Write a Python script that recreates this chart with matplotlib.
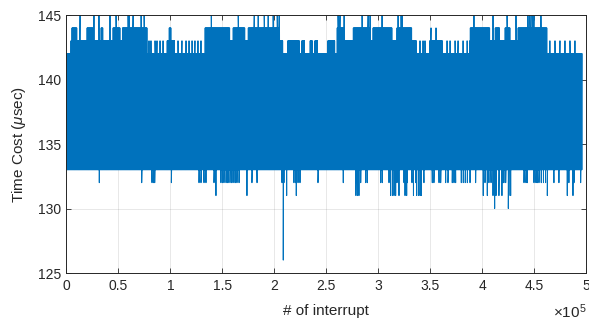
#!/usr/bin/env python
import matplotlib
matplotlib.use('Agg')
import matplotlib.pyplot as plt
import numpy as np

plt.rcParams['font.family'] = ['Liberation Sans', 'DejaVu Sans']
plt.rcParams['mathtext.fontset'] = 'custom'
plt.rcParams['mathtext.rm'] = 'Liberation Sans'
plt.rcParams['mathtext.it'] = 'Liberation Sans:italic'

# values (x in thousands of interrupts, y in usec)
n_interrupts = 496000
step = 250

# typical upper edge of the band, piecewise
top_bounds = [0, 4.5, 77.5, 97, 104.5, 133.5, 208.5, 213, 224.5, 226.5, 229.5,
              234.5, 237, 239, 242, 251.5, 258.5, 260.5, 337, 349.5, 362, 388,
              462, 496]
top_levels = [142, 143, 142, 143, 142, 143, 142, 143, 142, 143, 142, 143,
              142, 143, 142, 143, 142, 143, 142, 143, 142, 143, 142]
bottom_level = 133

# stretches where the upper edge reaches 144
seg144_start = [5.5, 19.9, 33.4, 44.9, 53.6, 98.7, 133.4, 160.3, 174.7, 260.3,
                275.7, 294.9, 318.0, 388.2, 412.1, 421.8, 434.3]
seg144_end = [10.3, 25.7, 35.3, 51.6, 77.6, 100.7, 157.4, 171.8, 205.5, 268.0,
              292.1, 313.2, 332.4, 407.4, 416.9, 426.6, 462.2]

# single spikes
spk145 = [13.2, 26.6, 31.4, 42.0, 47.8, 59.4, 60.4, 64.2, 71.9, 74.8, 139.4,
          165.3, 180.7, 184.5, 190.3, 194.1, 198.9, 202.8, 204.7, 261.3, 263.2,
          267.1, 284.4, 290.2, 292.1, 303.6, 319.0, 321.9, 322.9, 392.0, 410.3,
          423.8, 432.4, 443.9, 445.8, 447.8, 449.7, 456.4]
spk144 = [350.7, 355.5]
spk143 = [79.5, 81.4, 85.3, 87.2, 90.1, 93.0, 107.4, 111.2, 115.1, 118.0, 120.9,
          123.7, 126.6, 129.5, 340.1, 343.0, 344.9, 366.1, 369.0, 373.8, 376.7,
          381.5, 385.4, 465.0, 469.9, 474.7, 479.5, 484.3, 489.1]
spk132 = [31.7, 72.5, 82.4, 83.8, 85.0, 101.0, 127.6, 129.5, 132.4, 134.3, 142.0,
          148.7, 150.2, 151.6, 153.6, 155.0, 156.4, 158.4, 159.3, 161.2, 162.7,
          164.1, 166.1, 178.5, 183.4, 207.4, 209.3, 218.9, 220.4, 222.8, 224.7,
          242.0, 266.3, 278.3, 283.1, 287.9, 289.4, 302.3, 303.8, 310.3, 318.0,
          324.7, 327.9, 332.4, 335.9, 343.9, 351.9, 353.5, 358.4, 360.0, 364.8,
          367.0, 371.1, 372.8, 374.4, 379.8, 381.7, 383.6, 385.6, 388.2, 393.6,
          402.6, 406.4, 408.4, 419.9, 420.8, 422.5, 440.1, 442.0, 443.3, 449.7,
          451.6, 452.9, 454.5, 456.7, 458.8, 460.9, 468.9, 473.7, 483.3, 488.2,
          494.6]
spk131 = [143.9, 173.7, 211.9, 221.1, 278.5, 280.0, 281.4, 311.9, 313.6, 315.1,
          316.7, 319.9, 325.7, 327.3, 333.8, 336.9, 338.6, 340.1, 341.3, 400.9,
          404.8, 410.3, 413.2, 416.0, 418.9, 425.6, 427.3, 462.5, 481.7, 487.2]
spk130 = [411.9, 425.0]
spk126 = [208.6]

xtick_vals = [0, 0.5, 1, 1.5, 2, 2.5, 3, 3.5, 4, 4.5, 5]
xtick_labels = ['0', '0.5', '1', '1.5', '2', '2.5', '3', '3.5', '4', '4.5', '5']
ytick_vals = [125, 130, 135, 140, 145]

# build the trace from the envelope readings
x = np.arange(0, n_interrupts + 1, step).astype(float)
xk = x / 1000.0
seg = np.clip(np.searchsorted(top_bounds, xk, side='right') - 1, 0, len(top_levels) - 1)
top = np.array(top_levels, dtype=float)[seg]
for a, b in zip(seg144_start, seg144_end):
    top[(xk >= a) & (xk < b)] = 144
y = np.where(np.arange(len(x)) % 2 == 0, top, bottom_level)

sx, sy = [], []
for vals, lev in [(spk145, 145), (spk144, 144), (spk143, 143), (spk132, 132),
                  (spk131, 131), (spk130, 130), (spk126, 126)]:
    sx += [v * 1000 for v in vals]
    sy += [lev] * len(vals)
x = np.concatenate([x, sx])
y = np.concatenate([y, sy])
order = np.argsort(x, kind='stable')
x, y = x[order], y[order]

fig = plt.figure(figsize=(5.89, 3.24), dpi=100)
ax = fig.add_axes([0.1126, 0.1574, 0.8828, 0.7963])
ax.plot(x, y, color='#0072BD', linewidth=0.7)

ax.set_xlim(0, 5e5)
ax.set_ylim(125, 145)
ax.set_xticks([v * 1e5 for v in xtick_vals])
ax.set_xticklabels(xtick_labels)
ax.set_yticks(ytick_vals)
ax.grid(True, color='#262626', alpha=0.12, linewidth=0.6)
ax.set_axisbelow(True)
ax.tick_params(direction='in', length=3.5, width=0.6, colors='#262626',
               labelsize=10, top=True, right=True, pad=4)
for s in ax.spines.values():
    s.set_color('#262626')
    s.set_linewidth(0.7)

ax.set_xlabel('# of interrupt', fontsize=11, color='#262626', labelpad=8)
ax.set_ylabel(r'Time Cost ($\mu$sec)', fontsize=11, color='#262626', labelpad=7)
ax.text(1.0, -0.115, r'$\times\mathregular{10^5}$', transform=ax.transAxes,
        ha='right', va='top', fontsize=11, color='#262626')

plt.savefig('out.png', dpi=100)
